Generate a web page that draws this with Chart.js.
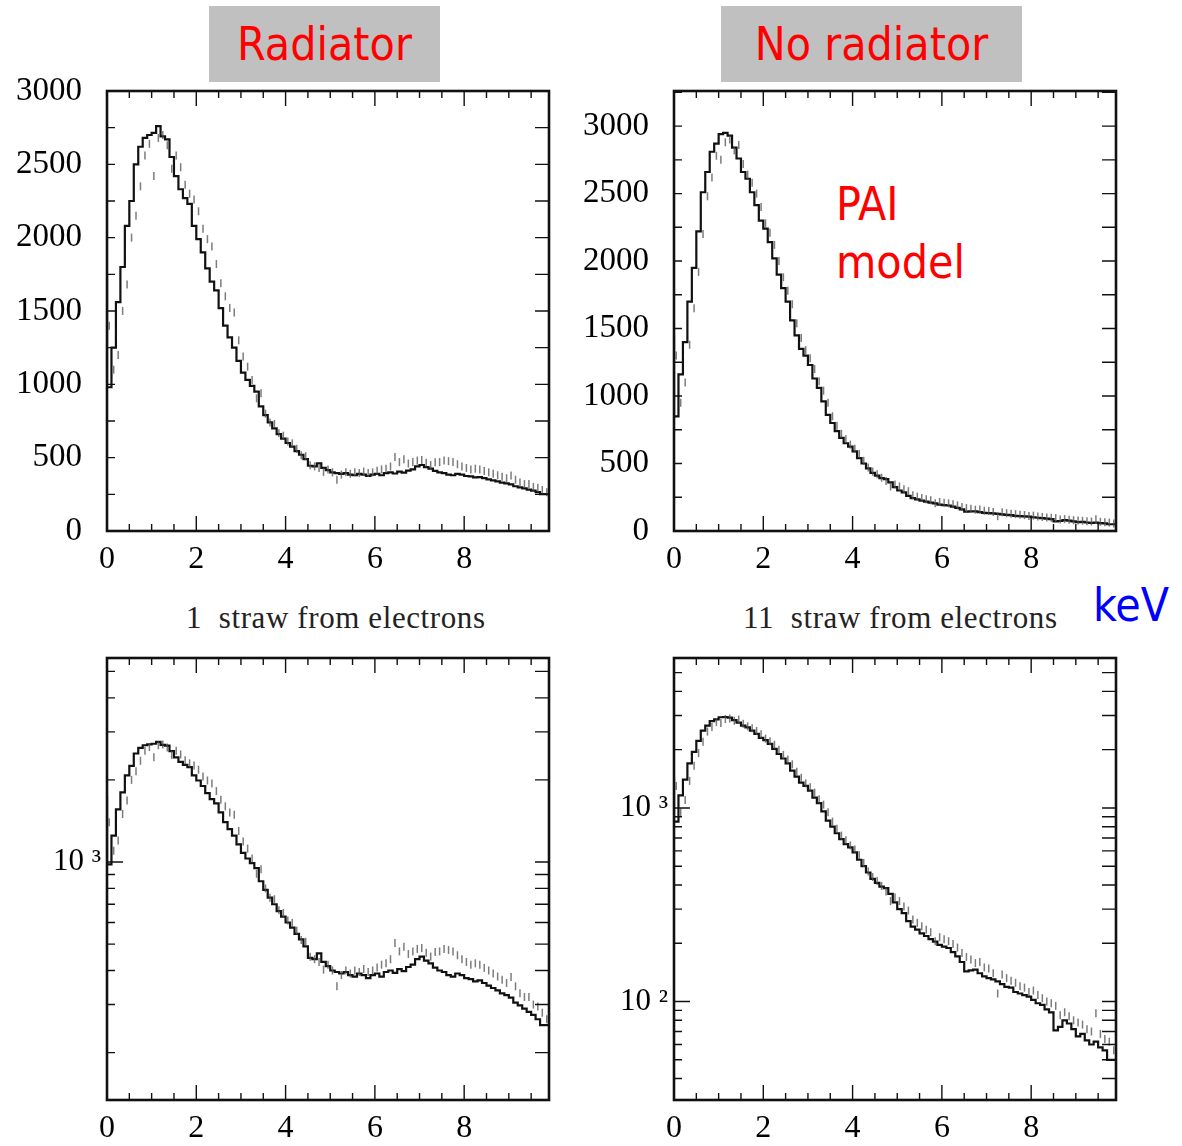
<!DOCTYPE html>
<html>
<head>
<meta charset="utf-8">
<script src="https://cdn.jsdelivr.net/npm/chart.js@4.4.1/dist/chart.umd.min.js"></script>
<style>
  body { margin: 0; width: 1182px; height: 1146px; position: relative; background: #fff; overflow: hidden; }
  canvas { position: absolute; }
  .tag { position: absolute; background: #c0c0c0; color: #ff0000; font-family: 'DejaVu Sans Condensed', 'DejaVu Sans', sans-serif;
         font-size: 46px; display: flex; align-items: center; justify-content: center; }
  .note { position: absolute; font-family: 'DejaVu Sans Condensed', 'DejaVu Sans', sans-serif; font-size: 46px; line-height: 58px; }
  .sub { position: absolute; font-family: 'Liberation Serif', serif; font-size: 31px; letter-spacing: 0.6px; color: #222; white-space: pre; }
</style>
</head>
<body>
<div class="tag" style="left:209px;top:6px;width:231px;height:76px">Radiator</div>
<div class="tag" style="left:721px;top:6px;width:301px;height:76px">No radiator</div>
<div class="note" style="left:836px;top:175px;color:#ff0000">PAI<br>model</div>
<div class="note" style="left:1093px;top:576px;color:#0000ff">keV</div>
<div class="sub" style="left:186px;top:600px">1  straw from electrons</div>
<div class="sub" style="left:743px;top:600px">11  straw from electrons</div>

<canvas id="tl" width="560" height="520" style="left:0;top:60px"></canvas>
<canvas id="tr" width="560" height="520" style="left:567px;top:60px"></canvas>
<canvas id="bl" width="560" height="498" style="left:0;top:648px"></canvas>
<canvas id="br" width="560" height="498" style="left:567px;top:648px"></canvas>

<script>
/* ─── Data: 0.1 keV bins from 0 to 9.9 keV ─────── */
const BIN = 0.1;
const X_MAX = 9.9;
const xTicks   = [0, 2, 4, 6, 8];
const linTicks = [0, 500, 1000, 1500, 2000, 2500, 3000];
const logTicks = [100, 1000];
const logLabels = { 100: '10 \u00b2', 1000: '10 \u00b3' };

// Radiator: simulation histogram (solid) and measured points (grey)
const radiatorHist = [
  1750, 980, 1250, 1560, 1800, 2080, 2250, 2500, 2620, 2680,
  2700, 2715, 2760, 2690, 2670, 2550, 2420, 2330, 2270, 2230,
  2080, 1990, 1900, 1790, 1700, 1640, 1520, 1400, 1320, 1250,
  1160, 1080, 1030, 990, 950, 850, 790, 740, 700, 660,
  630, 600, 575, 545, 520, 490, 445, 440, 462, 430,
  415, 400, 395, 390, 395, 385, 380, 390, 385, 375,
  385, 390, 380, 395, 400, 392, 405, 398, 412, 420,
  440, 450, 435, 425, 410, 400, 395, 385, 380, 390,
  385, 375, 372, 365, 368, 360, 352, 345, 338, 330,
  325, 318, 305, 298, 290, 282, 275, 265, 252
];
const radiatorData = [
  1400, 1100, 1200, 1500, 1680, 2000, 2150, 2350, 2560, 2640,
  2420, 2680, 2700, 2630, 2470, 2560, 2480, 2360, 2300, 2260,
  2180, 2060, 1990, 1940, 1820, 1690, 1600, 1520, 1490, 1300,
  1190, 1120, 1030, 905, 940, 800, 740, 730, 666, 650,
  610, 598, 560, 517, 510, 449, 440, 430, 403, 420,
  400, 350, 385, 400, 390, 400, 395, 405, 395, 400,
  410, 420, 425, 440, 505, 470, 489, 460, 470, 480,
  484, 465, 450, 468, 470, 480, 476, 470, 455, 440,
  430, 420, 425, 420, 409, 400, 390, 380, 370, 360,
  379, 350, 330, 320, 320, 300, 295, 280, 265
];

// No radiator
const noRadHist = [
  1450, 850, 1160, 1400, 1700, 1950, 2220, 2510, 2660, 2810,
  2870, 2940, 2950, 2930, 2840, 2760, 2660, 2610, 2510, 2415,
  2300, 2240, 2140, 2020, 1900, 1800, 1700, 1560, 1450, 1350,
  1300, 1230, 1130, 1060, 960, 860, 800, 740, 690, 650,
  625, 590, 540, 500, 464, 430, 410, 392, 385, 360,
  325, 300, 286, 260, 244, 235, 225, 218, 210, 204,
  196, 192, 189, 180, 171, 160, 143, 145, 146, 140,
  135, 132, 130, 127, 123, 119, 118, 112, 110, 108,
  106, 102, 98, 96, 91, 88, 71, 74, 80, 77,
  72, 66, 68, 63, 60, 62, 58, 56, 50
];
const noRadData = [
  1300, 950, 1100, 1380, 1650, 1920, 2200, 2480, 2620, 2780,
  2750, 2880, 2900, 2820, 2860, 2720, 2640, 2580, 2500, 2400,
  2280, 2210, 2120, 2000, 1880, 1780, 1680, 1540, 1430, 1340,
  1280, 1200, 1110, 1040, 950, 850, 780, 720, 680, 640,
  610, 570, 520, 470, 440, 420, 395, 370, 330, 345,
  330, 310, 295, 265, 255, 245, 235, 228, 205, 215,
  210, 205, 198, 190, 178, 170, 165, 158, 160, 150,
  148, 140, 110, 138, 132, 128, 125, 120, 118, 112,
  114, 108, 104, 100, 98, 95, 85, 88, 84, 80,
  78, 76, 72, 70, 87, 68, 64, 62, 56
];

/* ─── Frame with inward ticks on all four sides (ROOT style) ─── */
const rootFrame = {
  id: 'rootFrame',
  afterDraw(chart) {
    const { ctx, chartArea: a, scales: { x, y } } = chart;
    ctx.save();
    ctx.strokeStyle = '#111';
    ctx.lineWidth = 1.4;
    ctx.beginPath();
    for (let v = 0; v <= x.max + 1e-9; v += 0.5) {
      const px = x.getPixelForValue(v);
      const len = (Math.round(v * 10) % 20 === 0) ? 15 : 7;
      ctx.moveTo(px, a.bottom); ctx.lineTo(px, a.bottom - len);
      ctx.moveTo(px, a.top);    ctx.lineTo(px, a.top + len);
    }
    let yMarks = [];
    if (y.type === 'logarithmic') {
      for (let d = Math.pow(10, Math.floor(Math.log10(y.min))); d <= y.max; d *= 10) {
        for (let k = 1; k <= 9; k++) {
          const v = k * d;
          if (v >= y.min && v <= y.max) yMarks.push({ v, major: k === 1 });
        }
      }
    } else {
      for (let v = 0; v <= y.max; v += 250) yMarks.push({ v, major: false });
    }
    yMarks.forEach(m => {
      const py = y.getPixelForValue(m.v);
      ctx.moveTo(a.left, py);  ctx.lineTo(a.left + (m.major ? 16 : 8), py);
      ctx.moveTo(a.right, py); ctx.lineTo(a.right - 14, py);
    });
    ctx.stroke();
    ctx.lineWidth = 2.6;
    ctx.strokeRect(a.left, a.top, a.right - a.left, a.bottom - a.top);
    ctx.restore();
  }
};

/* ─── One panel ─────────────────────────────────── */
function makePanel(id, hist, points, yScale, padTop, axisH) {
  const line = hist.map((v, i) => ({ x: i * BIN, y: v }));
  line.push({ x: X_MAX, y: hist[hist.length - 1] });
  const pts = points.map((v, i) => ({ x: (i + 0.5) * BIN, y: v }));

  const tickFont = { family: "'Liberation Serif', serif", size: 32 };

  new Chart(document.getElementById(id), {
    type: 'line',
    data: {
      datasets: [
        {
          data: pts,
          showLine: false,
          pointStyle: 'line',
          pointRotation: 90,
          pointRadius: 4,
          borderColor: 'rgba(80,80,80,0.75)',
          borderWidth: 1.5
        },
        {
          data: line,
          stepped: 'after',
          borderColor: '#111',
          borderWidth: 2.2,
          pointRadius: 0,
          fill: false
        }
      ]
    },
    options: {
      responsive: false,
      animation: false,
      devicePixelRatio: 1,
      layout: { autoPadding: false, padding: { top: padTop, right: 11, left: 0, bottom: 0 } },
      plugins: { legend: { display: false }, tooltip: { enabled: false } },
      scales: {
        x: {
          type: 'linear', min: 0, max: X_MAX,
          afterBuildTicks: s => { s.ticks = xTicks.map(v => ({ value: v })); },
          afterFit: s => { s.height = axisH; s.paddingLeft = 0; s.paddingRight = 0; },
          grid: { display: false, drawTicks: false },
          border: { display: false },
          ticks: { font: tickFont, color: '#000', padding: 9, autoSkip: false, maxRotation: 0, callback: v => String(v) }
        },
        y: Object.assign({
          afterFit: s => { s.width = 107; s.paddingTop = 0; s.paddingBottom = 0; },
          grid: { display: false, drawTicks: false },
          border: { display: false }
        }, yScale)
      }
    },
    plugins: [rootFrame]
  });
}

const linY = (max) => ({
  type: 'linear', min: 0, max: max,
  afterBuildTicks: s => { s.ticks = linTicks.filter(v => v <= max).map(v => ({ value: v })); },
  ticks: { font: { family: "'Liberation Serif', serif", size: 33 }, color: '#000', padding: 25, autoSkip: false,
           callback: v => String(v) }
});
const logY = (min, max) => ({
  type: 'logarithmic', min: min, max: max,
  afterBuildTicks: s => { s.ticks = logTicks.filter(v => v >= min && v <= max).map(v => ({ value: v })); },
  ticks: { font: { family: "'Liberation Serif', serif", size: 31 }, color: '#000', padding: 6, autoSkip: false,
           callback: v => logLabels[v] || '' }
});

makePanel('tl', radiatorHist, radiatorData, linY(3000), 31, 49);
makePanel('tr', noRadHist,    noRadData,    linY(3260), 31, 49);
makePanel('bl', radiatorHist, radiatorData, logY(134, 5600), 10, 46);
makePanel('br', noRadHist,    noRadData,    logY(31, 5950), 10, 46);
</script>
</body>
</html>
